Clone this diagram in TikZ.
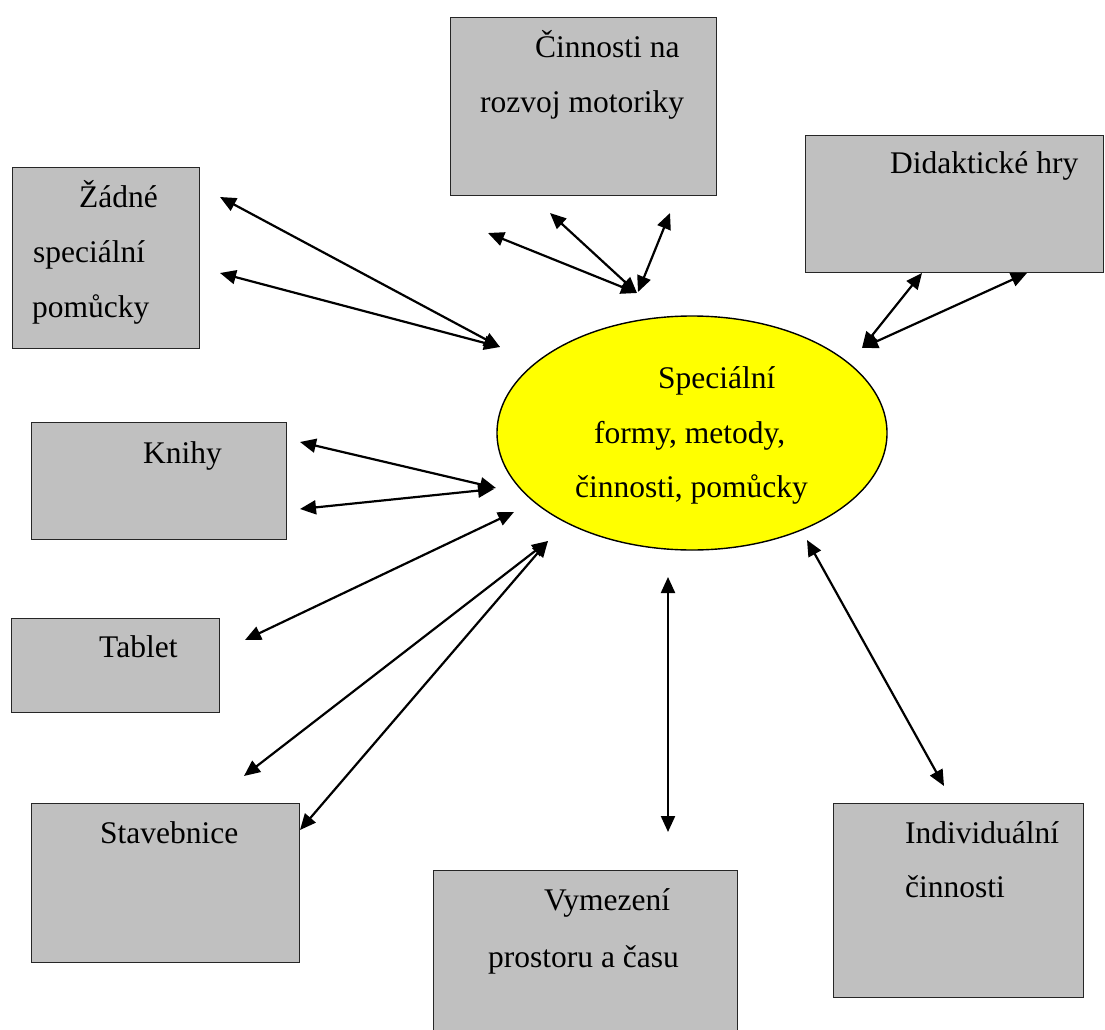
\documentclass[tikz,border=0pt]{standalone}
\usepackage{fontspec}
\setmainfont{Liberation Serif}
\usetikzlibrary{arrows.meta,shapes.geometric}
\definecolor{boxgray}{HTML}{C0C0C0}
\definecolor{hubyellow}{HTML}{FFFF00}
\begin{document}
\begin{tikzpicture}[x=1pt,y=-1pt,
  box/.style={draw=black!85, line width=1.4pt, fill=boxgray, inner sep=0pt, anchor=north west},
  hub/.style={ellipse, draw=black, line width=1.4pt, fill=hubyellow, inner sep=0pt},
  lbl/.style={anchor=base west, inner sep=0pt, font=\fontsize{31.5}{40}\selectfont},
  link/.style={line width=2.2pt, {Triangle[length=16pt,width=14pt]}-{Triangle[length=16pt,width=14pt]}}
]
\useasboundingbox (0,0) rectangle (1105,1030);
\clip (0,0) rectangle (1105,1030);
\fill[white] (0,0) rectangle (1105,1030);

% surrounding boxes
\node[box, minimum width=266pt, minimum height=178pt] (motor)  at (450,17)  {};
\node[box, minimum width=298pt, minimum height=137pt] (didak)  at (805,135) {};
\node[box, minimum width=187pt, minimum height=181pt] (zadne)  at (12,167)  {};
\node[box, minimum width=255pt, minimum height=117pt] (knihy)  at (31,422)  {};
\node[box, minimum width=208pt, minimum height=94pt]  (tablet) at (11,618)  {};
\node[box, minimum width=268pt, minimum height=159pt] (staveb) at (31,803)  {};
\node[box, minimum width=304pt, minimum height=190pt] (vymez)  at (433,870) {};
\node[box, minimum width=250pt, minimum height=194pt] (indiv)  at (833,803) {};

% central ellipse
\node[hub, minimum width=390pt, minimum height=234pt] (hub) at (692,433) {};

% arrow end points
\coordinate (z1) at (220,197);  \coordinate (z2) at (220,273);  \coordinate (hz) at (500,347);
\coordinate (m1) at (488,233);  \coordinate (m2) at (550,213);  \coordinate (m3) at (670,213);
\coordinate (hm) at (637,293);  \coordinate (hm2) at (638,292);
\coordinate (d1) at (922,273);  \coordinate (d2) at (1027,273); \coordinate (hd) at (862,348);
\coordinate (k1) at (300,442);  \coordinate (k2) at (300,509);
\coordinate (hk1) at (496,488); \coordinate (hk2) at (494,489);
\coordinate (t1) at (245,640);  \coordinate (ht) at (514,512);
\coordinate (s1) at (244,776);  \coordinate (s2) at (300,830);  \coordinate (hs) at (548,541);
\coordinate (v1) at (668,832);  \coordinate (hv) at (668,577);
\coordinate (i1) at (944,786);  \coordinate (hi) at (807,540);

% double-headed connectors
\draw[link] (z1) -- (hz);
\draw[link] (z2) -- (hz);
\draw[link] (m1) -- (hm);
\draw[link] (m2) -- (hm);
\draw[link] (m3) -- (hm2);
\draw[link] (d1) -- (hd);
\draw[link] (d2) -- (hd);
\draw[link] (k1) -- (hk1);
\draw[link] (k2) -- (hk2);
\draw[link] (t1) -- (ht);
\draw[link] (s1) -- (hs);
\draw[link] (s2) -- (hs);
\draw[link] (v1) -- (hv);
\draw[link] (i1) -- (hi);

% labels
\node[lbl] (tm1) at (535,58)  {Činnosti na};
\node[lbl] (tm2) at (480,113) {rozvoj motoriky};
\node[lbl] (td1) at (890,173) {Didaktické hry};
\node[lbl] (tz1) at (79,207)  {Žádné};
\node[lbl] (tz2) at (33,262)  {speciální};
\node[lbl] (tz3) at (32,317)  {pomůcky};
\node[lbl] (tk1) at (143,463) {Knihy};
\node[lbl] (tt1) at (99,657)  {Tablet};
\node[lbl] (ts1) at (100,843) {Stavebnice};
\node[lbl] (tv1) at (544,910) {Vymezení};
\node[lbl] (tv2) at (488,967) {prostoru a času};
\node[lbl] (ti1) at (905,843) {Individuální};
\node[lbl] (ti2) at (905,897) {činnosti};
\node[lbl] (th1) at (658,388) {Speciální};
\node[lbl] (th2) at (594,443) {formy, metody,};
\node[lbl] (th3) at (575,497) {činnosti, pomůcky};
\end{tikzpicture}
\end{document}
